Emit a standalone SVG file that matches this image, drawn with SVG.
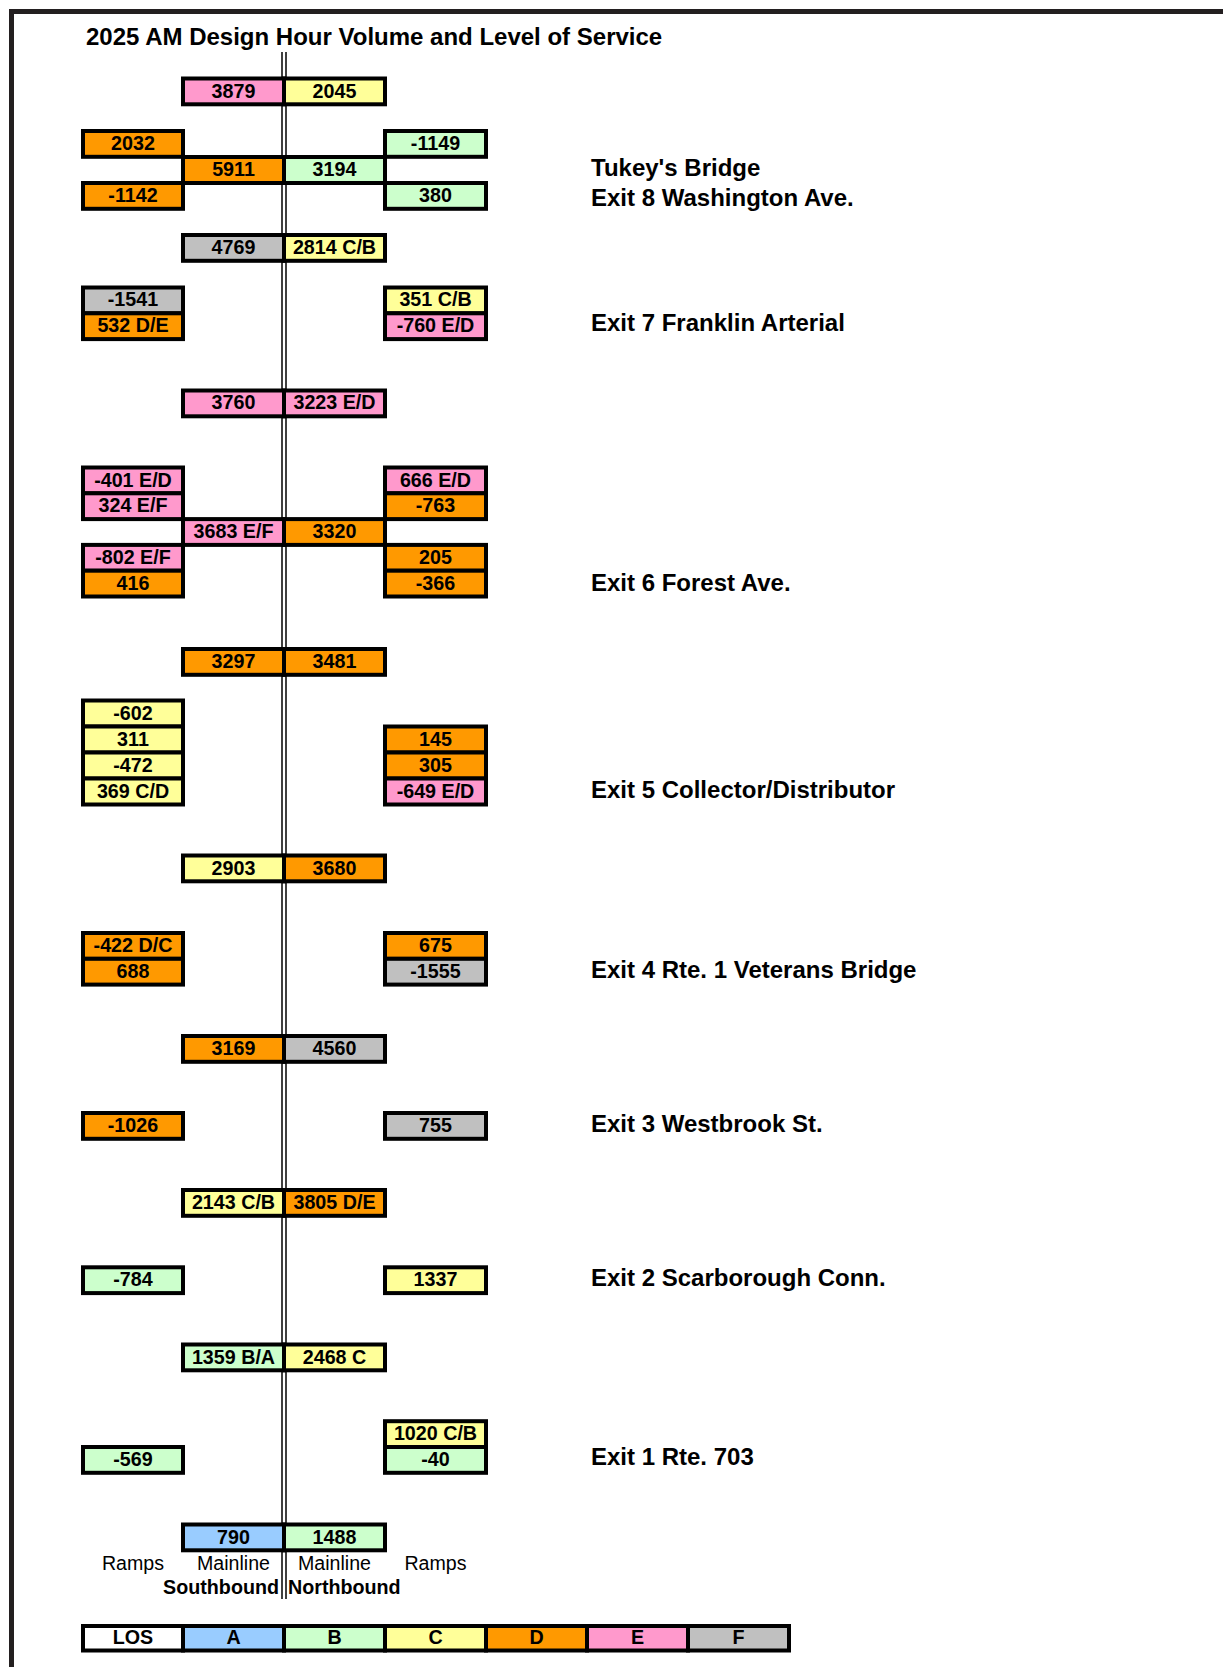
<svg xmlns="http://www.w3.org/2000/svg" width="1223" height="1667" viewBox="0 0 1223 1667">
<style>
.cell{stroke:#000;stroke-width:4}
.W{fill:#FFFFFF}.A{fill:#99CCFF}.B{fill:#CCFFCC}.C{fill:#FFFF99}.D{fill:#FF9900}.E{fill:#FF99CC}.F{fill:#C0C0C0}
text{font-family:"Liberation Sans",Arial,sans-serif;fill:#000}
.v{font-size:19.7px;font-weight:bold;text-anchor:middle}
.h{font-size:24px;font-weight:bold}
.lab{font-size:19.6px;text-anchor:middle}
.dir{font-size:19.7px;font-weight:bold}
.road{stroke:#000;stroke-width:1.5}
</style>
<rect width="1223" height="1667" fill="#fff"/>
<path d="M11.5,1667 V11.5 H1223" fill="none" stroke="#231F20" stroke-width="5"/>
<text class="h" x="86" y="45">2025 AM Design Hour Volume and Level of Service</text>

<g id="connectors">
<line class="road" x1="282" y1="52" x2="282" y2="1599"/>
<line class="road" x1="286" y1="52" x2="286" y2="1599"/>
</g>

<g id="ml-0">
<rect class="cell E" x="183" y="78.5" width="101" height="25.8"/><text class="v" x="233.5" y="97.5">3879</text>
<rect class="cell C" x="284" y="78.5" width="101" height="25.8"/><text class="v" x="334.5" y="97.5">2045</text>
</g>
<g id="exit8-sb-ramps">
<rect class="cell D" x="83" y="131" width="100" height="25.8"/><text class="v" x="133" y="150">2032</text>
<rect class="cell D" x="83" y="183" width="100" height="25.8"/><text class="v" x="133" y="202">-1142</text>
</g>
<g id="exit8-nb-ramps">
<rect class="cell B" x="385" y="131" width="101" height="25.8"/><text class="v" x="435.5" y="150">-1149</text>
<rect class="cell B" x="385" y="183" width="101" height="25.8"/><text class="v" x="435.5" y="202">380</text>
</g>
<g id="ml-1">
<rect class="cell D" x="183" y="157" width="101" height="26"/><text class="v" x="233.5" y="176">5911</text>
<rect class="cell B" x="284" y="157" width="101" height="26"/><text class="v" x="334.5" y="176">3194</text>
</g>
<g id="ml-2">
<rect class="cell F" x="183" y="235" width="101" height="25.8"/><text class="v" x="233.5" y="254">4769</text>
<rect class="cell C" x="284" y="235" width="101" height="25.8"/><text class="v" x="334.5" y="254">2814 C/B</text>
</g>
<g id="exit7-sb-ramps">
<rect class="cell F" x="83" y="287.5" width="100" height="25.8"/><text class="v" x="133" y="306.3">-1541</text>
<rect class="cell D" x="83" y="313.3" width="100" height="25.8"/><text class="v" x="133" y="332.1">532 D/E</text>
</g>
<g id="exit7-nb-ramps">
<rect class="cell C" x="385" y="287.5" width="101" height="25.8"/><text class="v" x="435.5" y="306.3">351 C/B</text>
<rect class="cell E" x="385" y="313.3" width="101" height="25.8"/><text class="v" x="435.5" y="332.1">-760 E/D</text>
</g>
<g id="ml-3">
<rect class="cell E" x="183" y="390.5" width="101" height="25.8"/><text class="v" x="233.5" y="409.3">3760</text>
<rect class="cell E" x="284" y="390.5" width="101" height="25.8"/><text class="v" x="334.5" y="409.3">3223 E/D</text>
</g>
<g id="exit6-sb-ramps-north">
<rect class="cell E" x="83" y="467.5" width="100" height="25.8"/><text class="v" x="133" y="486.5">-401 E/D</text>
<rect class="cell E" x="83" y="493.3" width="100" height="25.8"/><text class="v" x="133" y="512.3">324 E/F</text>
</g>
<g id="exit6-nb-ramps-north">
<rect class="cell E" x="385" y="467.5" width="101" height="25.8"/><text class="v" x="435.5" y="486.5">666 E/D</text>
<rect class="cell D" x="385" y="493.3" width="101" height="25.8"/><text class="v" x="435.5" y="512.3">-763</text>
</g>
<g id="ml-4">
<rect class="cell E" x="183" y="519.1" width="101" height="25.8"/><text class="v" x="233.5" y="538.1">3683 E/F</text>
<rect class="cell D" x="284" y="519.1" width="101" height="25.8"/><text class="v" x="334.5" y="538.1">3320</text>
</g>
<g id="exit6-sb-ramps-south">
<rect class="cell E" x="83" y="544.9" width="100" height="25.8"/><text class="v" x="133" y="563.9">-802 E/F</text>
<rect class="cell D" x="83" y="570.7" width="100" height="25.8"/><text class="v" x="133" y="589.7">416</text>
</g>
<g id="exit6-nb-ramps-south">
<rect class="cell D" x="385" y="544.9" width="101" height="25.8"/><text class="v" x="435.5" y="563.9">205</text>
<rect class="cell D" x="385" y="570.7" width="101" height="25.8"/><text class="v" x="435.5" y="589.7">-366</text>
</g>
<g id="ml-5">
<rect class="cell D" x="183" y="649" width="101" height="25.8"/><text class="v" x="233.5" y="668">3297</text>
<rect class="cell D" x="284" y="649" width="101" height="25.8"/><text class="v" x="334.5" y="668">3481</text>
</g>
<g id="exit5-sb-ramps">
<rect class="cell C" x="83" y="700.5" width="100" height="26"/><text class="v" x="133" y="719.7">-602</text>
<rect class="cell C" x="83" y="726.5" width="100" height="26"/><text class="v" x="133" y="745.7">311</text>
<rect class="cell C" x="83" y="752.5" width="100" height="26"/><text class="v" x="133" y="771.7">-472</text>
<rect class="cell C" x="83" y="778.5" width="100" height="26"/><text class="v" x="133" y="797.7">369 C/D</text>
</g>
<g id="exit5-nb-ramps">
<rect class="cell D" x="385" y="726.5" width="101" height="26"/><text class="v" x="435.5" y="745.7">145</text>
<rect class="cell D" x="385" y="752.5" width="101" height="26"/><text class="v" x="435.5" y="771.7">305</text>
<rect class="cell E" x="385" y="778.5" width="101" height="26"/><text class="v" x="435.5" y="797.7">-649 E/D</text>
</g>
<g id="ml-6">
<rect class="cell C" x="183" y="855.5" width="101" height="25.8"/><text class="v" x="233.5" y="874.5">2903</text>
<rect class="cell D" x="284" y="855.5" width="101" height="25.8"/><text class="v" x="334.5" y="874.5">3680</text>
</g>
<g id="exit4-sb-ramps">
<rect class="cell D" x="83" y="933" width="100" height="25.8"/><text class="v" x="133" y="952">-422 D/C</text>
<rect class="cell D" x="83" y="958.8" width="100" height="25.8"/><text class="v" x="133" y="977.8">688</text>
</g>
<g id="exit4-nb-ramps">
<rect class="cell D" x="385" y="933" width="101" height="25.8"/><text class="v" x="435.5" y="952">675</text>
<rect class="cell F" x="385" y="958.8" width="101" height="25.8"/><text class="v" x="435.5" y="977.8">-1555</text>
</g>
<g id="ml-7">
<rect class="cell D" x="183" y="1036" width="101" height="25.8"/><text class="v" x="233.5" y="1055">3169</text>
<rect class="cell F" x="284" y="1036" width="101" height="25.8"/><text class="v" x="334.5" y="1055">4560</text>
</g>
<g id="exit3-sb-ramp">
<rect class="cell D" x="83" y="1113" width="100" height="25.8"/><text class="v" x="133" y="1132">-1026</text>
</g>
<g id="exit3-nb-ramp">
<rect class="cell F" x="385" y="1113" width="101" height="25.8"/><text class="v" x="435.5" y="1132">755</text>
</g>
<g id="ml-8">
<rect class="cell C" x="183" y="1190" width="101" height="25.8"/><text class="v" x="233.5" y="1209">2143 C/B</text>
<rect class="cell D" x="284" y="1190" width="101" height="25.8"/><text class="v" x="334.5" y="1209">3805 D/E</text>
</g>
<g id="exit2-sb-ramp">
<rect class="cell B" x="83" y="1267.3" width="100" height="25.8"/><text class="v" x="133" y="1286.3">-784</text>
</g>
<g id="exit2-nb-ramp">
<rect class="cell C" x="385" y="1267.3" width="101" height="25.8"/><text class="v" x="435.5" y="1286.3">1337</text>
</g>
<g id="ml-9">
<rect class="cell B" x="183" y="1344.5" width="101" height="25.8"/><text class="v" x="233.5" y="1363.5">1359 B/A</text>
<rect class="cell C" x="284" y="1344.5" width="101" height="25.8"/><text class="v" x="334.5" y="1363.5">2468 C</text>
</g>
<g id="exit1-sb-ramp">
<rect class="cell B" x="83" y="1447" width="100" height="25.8"/><text class="v" x="133" y="1466">-569</text>
</g>
<g id="exit1-nb-ramps">
<rect class="cell C" x="385" y="1421.2" width="101" height="25.8"/><text class="v" x="435.5" y="1440.2">1020 C/B</text>
<rect class="cell B" x="385" y="1447" width="101" height="25.8"/><text class="v" x="435.5" y="1466">-40</text>
</g>
<g id="ml-10">
<rect class="cell A" x="183" y="1524.5" width="101" height="25.8"/><text class="v" x="233.5" y="1543.5">790</text>
<rect class="cell B" x="284" y="1524.5" width="101" height="25.8"/><text class="v" x="334.5" y="1543.5">1488</text>
</g>

<g id="exit-labels">
<text class="h" x="591" y="176">Tukey's Bridge</text>
<text class="h" x="591" y="206">Exit 8 Washington Ave.</text>
<text class="h" x="591" y="331">Exit 7 Franklin Arterial</text>
<text class="h" x="591" y="591">Exit 6 Forest Ave.</text>
<text class="h" x="591" y="797.5">Exit 5 Collector/Distributor</text>
<text class="h" x="591" y="977.5">Exit 4 Rte. 1 Veterans Bridge</text>
<text class="h" x="591" y="1131.5">Exit 3 Westbrook St.</text>
<text class="h" x="591" y="1285.7">Exit 2 Scarborough Conn.</text>
<text class="h" x="591" y="1465">Exit 1 Rte. 703</text>
</g>

<g id="column-labels">
<text class="lab" x="133" y="1569.5">Ramps</text>
<text class="lab" x="233.5" y="1569.5">Mainline</text>
<text class="lab" x="334.5" y="1569.5">Mainline</text>
<text class="lab" x="435.5" y="1569.5">Ramps</text>
<text class="dir" x="279" y="1594" text-anchor="end">Southbound</text>
<text class="dir" x="288" y="1594">Northbound</text>
</g>

<g id="legend">
<rect class="cell W" x="83" y="1626" width="100" height="24.5"/><text class="v" x="133" y="1643.5">LOS</text>
<rect class="cell A" x="183" y="1626" width="101" height="24.5"/><text class="v" x="233.5" y="1643.5">A</text>
<rect class="cell B" x="284" y="1626" width="101" height="24.5"/><text class="v" x="334.5" y="1643.5">B</text>
<rect class="cell C" x="385" y="1626" width="101" height="24.5"/><text class="v" x="435.5" y="1643.5">C</text>
<rect class="cell D" x="486" y="1626" width="101" height="24.5"/><text class="v" x="536.5" y="1643.5">D</text>
<rect class="cell E" x="587" y="1626" width="101" height="24.5"/><text class="v" x="637.5" y="1643.5">E</text>
<rect class="cell F" x="688" y="1626" width="101" height="24.5"/><text class="v" x="738.5" y="1643.5">F</text>
</g>
</svg>
